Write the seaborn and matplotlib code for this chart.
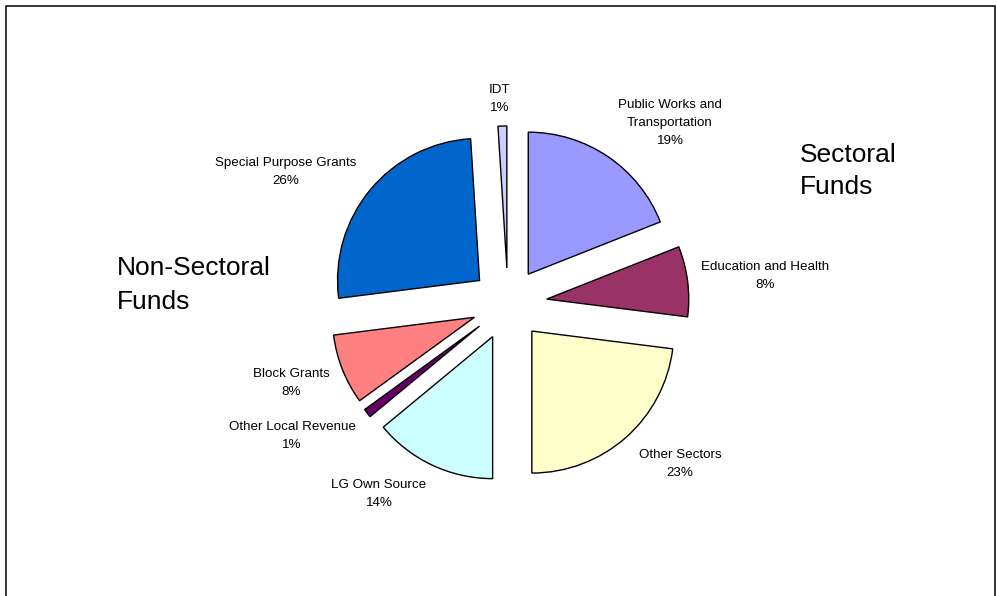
import matplotlib
matplotlib.use("Agg")
import matplotlib.pyplot as plt
import seaborn as sns
from matplotlib.patches import Rectangle

# data
categories = ["Public Works and\nTransportation", "Education and Health", "Other Sectors",
              "LG Own Source", "Other Local Revenue", "Block Grants",
              "Special Purpose Grants", "IDT"]
shares = [19, 8, 23, 14, 1, 8, 26, 1]
colors = ["#9999FF", "#993366", "#FFFFCC", "#CCFFFF", "#660066", "#FF8080", "#0066CC", "#CCCCFF"]
explode = [0.254, 0.275, 0.254, 0.254, 0.254, 0.254, 0.26, 0.254]

# label centres in pixels (from top-left of the figure)
label_px = [(670, 123), (765, 276), (680, 464), (379, 494), (292, 436),
            (291, 383), (286, 172), (500, 99)]

sns.set_theme(style="white")
plt.rcParams['font.family'] = ['Liberation Sans', 'DejaVu Sans']

W, H = 997, 596
cx, cy, r = 508, 304, 142  # pie centre and radius in pixels


def px(x, y):
    return (x - cx) / r, (cy - y) / r


fig = plt.figure(figsize=(W / 100, H / 100), dpi=100)
ax = fig.add_axes([0, 0, 1, 1])

ax.pie(shares, colors=colors, startangle=90, counterclock=False,
       explode=explode, radius=1,
       wedgeprops=dict(edgecolor="black", linewidth=1))

for cat, val, (x, y) in zip(categories, shares, label_px):
    tx, ty = px(x, y)
    ax.text(tx, ty, f"{cat}\n{val}%", ha="center", va="center",
            fontsize=9.6, color="black", linespacing=1.65)

tx, ty = px(800, 171)
ax.text(tx, ty, "Sectoral\nFunds", ha="left", va="center", fontsize=19,
        color="black", linespacing=1.42)
tx, ty = px(117, 285)
ax.text(tx, ty, "Non-Sectoral\nFunds", ha="left", va="center", fontsize=19,
        color="black", linespacing=1.5)

ax.set_xlim(-cx / r, (W - cx) / r)
ax.set_ylim(-(H - cy) / r, cy / r)
ax.set_aspect("equal", adjustable="box")
ax.axis("off")

# outer frame of the chart area
fig.patches.append(Rectangle((6 / W, -0.05), 989 / W, 1 - 6 / H + 0.05,
                             transform=fig.transFigure, fill=False,
                             edgecolor="black", linewidth=1.1))

fig.savefig("out.png", dpi=100)
